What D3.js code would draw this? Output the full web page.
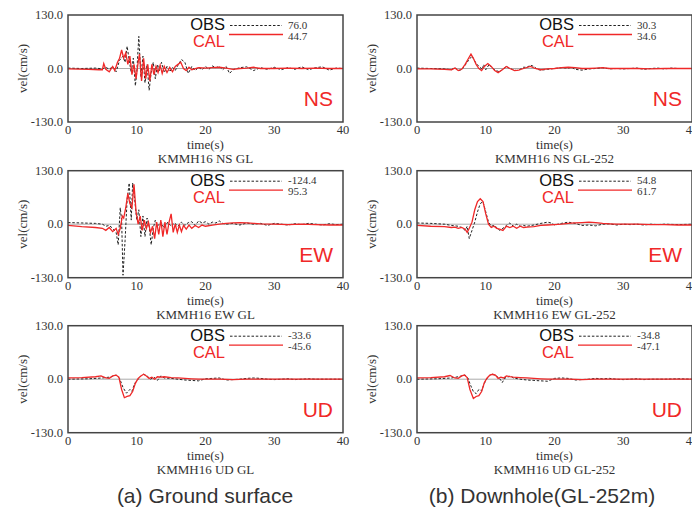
<!DOCTYPE html>
<html>
<head>
<meta charset="utf-8">
<script src="https://cdn.jsdelivr.net/npm/d3@7"></script>
<style>
  body { margin: 0; background: #fff; }
  svg { display: block; }
  .tick-label { font-family: "Liberation Serif", "DejaVu Serif", serif; font-size: 12.5px; fill: #333; }
  .axis-title { font-family: "Liberation Serif", serif; font-size: 13px; fill: #333; }
  .legend-name { font-family: "Liberation Sans", Arial, sans-serif; font-size: 16.5px; }
  .legend-val { font-family: "Liberation Serif", serif; font-size: 11px; fill: #333; }
  .comp { font-family: "Liberation Sans", Arial, sans-serif; font-size: 21px; fill: #f02828; }
  .caption { font-family: "Liberation Sans", Arial, sans-serif; font-size: 21px; fill: #333; }
</style>
</head>
<body>
<div class="chart"></div>
<script>
// time (s), velocity (cm/s) pairs
const nsGlObs = [[0,1],[2,0],[4,1],[5,-1],[5.5,3],[6,-2],[6.5,5],[7,-8],[7.5,20],[8,30],[8.3,15],[8.6,54],[8.9,20],[9.2,-10],[9.5,25],[9.8,-42],[10,-10],[10.3,78],[10.6,-20],[10.9,30],[11.2,-35],[11.5,10],[11.8,-53],[12.1,-10],[12.4,15],[12.7,-25],[13,10],[13.3,-5],[13.6,15],[14,-10],[14.4,5],[14.8,-8],[15.2,3],[15.6,-5],[16,8],[16.5,22],[17,15],[17.5,-12],[18,5],[18.5,-5],[19,3],[19.5,-3],[20,5],[20.5,-2],[21,6],[21.5,2],[22,5],[22.5,-3],[23,5],[23.5,-12],[24,-3],[25,2],[26,4],[27,-5],[28,2],[29,-2],[30,3],[31,-3],[32,2],[33,-2],[34,4],[35,-3],[36,2],[37,4],[38,-4],[39,1],[40,0]];
const nsGlCal = [[0,-1],[3,-2],[4.5,-3],[5,-3],[5.2,12],[5.5,-2],[6,-8],[6.5,5],[6.8,-5],[7.2,15],[7.5,25],[7.8,45],[8.1,25],[8.4,38],[8.7,10],[9,30],[9.3,-15],[9.6,10],[9.9,-25],[10.2,15],[10.4,35],[10.7,-30],[11,25],[11.3,-25],[11.6,10],[11.9,-30],[12.2,10],[12.5,-15],[12.8,5],[13.1,-10],[13.4,8],[13.7,-12],[14,5],[14.4,-10],[14.8,3],[15.2,-8],[15.6,5],[16,10],[16.4,15],[16.8,0],[17.2,-5],[17.6,3],[18,-3],[19,2],[20,1],[21,2],[22,3],[23,1],[24,-2],[25,0],[26,1],[27,3],[28,0],[30,0],[32,1],[34,0],[36,1],[38,0],[40,0]];

const ewGlObs = [[0,4],[2,3],[4,2],[5,0],[5.5,-5],[6,-3],[6.5,-10],[7,-20],[7.3,-50],[7.6,40],[7.8,10],[8,-124],[8.3,-40],[8.6,60],[8.9,100],[9.2,10],[9.4,100],[9.7,60],[10,10],[10.3,35],[10.6,-30],[10.9,20],[11.2,-30],[11.5,15],[11.8,-5],[12.1,-50],[12.4,-10],[12.7,10],[13,-5],[13.5,5],[14,-10],[14.5,5],[15,-5],[15.5,3],[16,-5],[16.5,5],[17,-3],[17.5,4],[18,6],[18.5,-3],[19,8],[19.5,3],[20,6],[20.5,0],[21,5],[21.5,3],[22,8],[22.5,2],[23,0],[24,2],[25,-2],[26,3],[27,0],[28,2],[29,-3],[30,2],[31,0],[32,-2],[33,1],[34,-1],[35,2],[36,0],[37,-2],[38,1],[39,-1],[40,0]];
const ewGlCal = [[0,-3],[2,-6],[4,-8],[5,-10],[5.5,-15],[6,-8],[6.5,-18],[7,-10],[7.3,-25],[7.6,-10],[7.9,20],[8.1,15],[8.4,40],[8.7,75],[9,50],[9.3,40],[9.6,97],[9.9,30],[10.2,0],[10.5,20],[10.8,-15],[11.1,10],[11.4,-10],[11.7,5],[12,-20],[12.3,-5],[12.6,-35],[12.9,5],[13.2,-25],[13.5,10],[13.8,-30],[14.1,5],[14.4,-25],[14.7,5],[15,25],[15.3,-20],[15.6,0],[15.9,-20],[16.2,-2],[16.5,-18],[16.8,-3],[17.2,-12],[17.6,-2],[18,-10],[18.5,-3],[19,-8],[19.5,-2],[20,-5],[21,-2],[22,0],[23,2],[24,3],[25,4],[26,3],[27,2],[28,1],[30,0],[32,-1],[34,0],[36,-1],[38,-2],[40,-2]];

const udGlObs = [[0,0],[3,1],[5,3],[6,5],[6.5,7],[7,10],[7.5,2],[8,-20],[8.5,-34],[9,-25],[9.3,-30],[9.7,-10],[10.2,0],[10.6,8],[11,12],[11.5,8],[12,0],[12.5,5],[13,-3],[13.5,8],[14,3],[15,2],[16,0],[17,-2],[18,-3],[19,-4],[20,1],[21,2],[22,3],[23,-2],[24,-1],[25,0],[26,2],[27,3],[28,2],[29,0],[30,-1],[31,0],[32,1],[33,-1],[34,0],[35,1],[36,0],[38,0],[40,0]];
const udGlCal = [[0,3],[2,4],[4,6],[4.8,8],[5.5,3],[6,2],[6.5,8],[7,10],[7.4,5],[7.8,-25],[8.2,-45],[8.6,-42],[9,-40],[9.4,-30],[9.8,-10],[10.2,2],[10.6,8],[11,12],[11.4,8],[11.8,2],[12.2,5],[12.6,0],[13,6],[13.5,5],[14,6],[15,4],[16,3],[17,2],[18,1],[19,0],[20,0],[22,0],[24,-1],[26,0],[28,0],[30,0],[32,0],[34,0],[36,0],[38,0],[40,0]];

const nsDhObs = [[0,1],[2,0],[4,-1],[5,-3],[5.5,2],[6,-5],[6.5,-3],[7,8],[7.5,20],[8,30],[8.5,15],[9,5],[9.5,-2],[9.7,10],[10,-3],[10.5,10],[11,0],[11.5,-5],[12,-8],[12.5,-2],[13,5],[13.5,0],[14,-3],[14.5,-5],[15,-2],[15.5,3],[16,3],[16.5,8],[17,5],[17.5,-2],[18,-4],[19,-2],[20,0],[21,2],[22,1],[22.5,3],[23,-2],[24,-4],[25,-1],[26,0],[27,2],[28,-1],[29,0],[30,-1],[31,0],[32,1],[33,-2],[34,0],[35,1],[36,-1],[37,1],[38,0],[40,0]];
const nsDhCal = [[0,-1],[2,-1],[4,-2],[5,-3],[5.5,1],[6,-5],[6.5,-2],[7,10],[7.5,25],[7.85,35],[8.2,25],[8.6,10],[9,0],[9.4,-5],[9.8,5],[10.3,12],[10.8,5],[11.3,-5],[11.8,-10],[12.4,-3],[13,5],[13.5,0],[14.2,-5],[14.8,-4],[15.5,0],[16.5,5],[17.2,0],[18,-3],[19,-1],[20,0],[21,2],[22,3],[23,2],[24,0],[25,0],[26,1],[27,2],[28,0],[30,0],[32,0],[34,-1],[36,0],[38,0],[40,0]];

const ewDhObs = [[0,3],[2,2],[4,0],[5,-3],[6,-5],[6.5,-8],[7,-15],[7.3,-5],[7.6,-35],[8,-15],[8.4,5],[8.8,30],[9.2,50],[9.6,55],[10,30],[10.4,5],[10.8,-5],[11.2,-3],[11.6,-8],[12,-15],[12.5,-10],[13,-3],[13.5,3],[14,-5],[14.5,0],[15,-5],[15.5,-3],[16,-5],[17,-2],[18,2],[19,5],[19.5,3],[20,-2],[21,2],[22,5],[23,2],[24,-3],[25,-2],[26,-4],[27,0],[28,1],[29,-2],[30,0],[31,-1],[32,0],[33,-2],[34,0],[35,-1],[36,0],[38,-1],[40,0]];
const ewDhCal = [[0,-3],[2,-5],[4,-6],[5,-8],[5.5,-7],[6,-10],[6.5,-8],[7,-12],[7.3,-20],[7.6,-10],[8,5],[8.4,35],[8.8,55],[9.2,62],[9.6,55],[10,25],[10.4,0],[10.8,-8],[11.2,-5],[11.6,-10],[12,-12],[12.5,-15],[13,-5],[13.5,-8],[14,-5],[14.5,-10],[15,-5],[15.5,-8],[16,-7],[17,-6],[18,-3],[19,-2],[20,-1],[21,0],[22,2],[23,3],[24,4],[25,5],[26,4],[27,2],[28,1],[29,0],[30,0],[32,0],[34,-1],[36,-1],[38,-2],[40,-2]];

const udDhObs = [[0,0],[3,1],[5,3],[6,6],[6.5,8],[7,10],[7.4,3],[7.8,-15],[8.2,-30],[8.6,-35],[9,-25],[9.4,-28],[9.8,-10],[10.2,2],[10.6,10],[11,12],[11.5,8],[12,2],[12.4,-8],[12.8,3],[13.2,5],[13.6,8],[14,3],[15,0],[16,-2],[17,-3],[18,-4],[19,-5],[20,2],[21,3],[22,2],[23,-2],[24,-1],[25,0],[26,2],[27,1],[28,2],[29,0],[30,-1],[31,0],[32,1],[33,-1],[34,0],[36,0],[38,1],[40,0]];
const udDhCal = [[0,3],[2,4],[4,6],[4.8,9],[5.5,3],[6,2],[6.5,8],[6.9,10],[7.3,4],[7.7,-25],[8.2,-47],[8.6,-42],[9,-40],[9.4,-30],[9.8,-8],[10.2,3],[10.6,10],[11,12],[11.4,10],[11.8,2],[12.2,5],[12.6,3],[13,8],[13.5,6],[14,5],[15,4],[16,3],[17,2],[18,1],[19,0],[20,0],[22,0],[24,-1],[26,0],[28,0],[30,0],[32,0],[34,0],[36,0],[38,0],[40,0]];

const components = ["NS", "EW", "UD"];
const sites = ["GL", "GL-252"];
const obsPeaks = [["76.0", "30.3"], ["-124.4", "54.8"], ["-33.6", "-34.8"]];
const calPeaks = [["44.7", "34.6"], ["95.3", "61.7"], ["-45.6", "-47.1"]];
const xTicks = [0, 10, 20, 30, 40];
const yTicks = [130, 0, -130];
const captions = ["(a) Ground surface", "(b) Downhole(GL-252m)"];

const obsSeries = [[nsGlObs, nsDhObs], [ewGlObs, ewDhObs], [udGlObs, udDhObs]];
const calSeries = [[nsGlCal, nsDhCal], [ewGlCal, ewDhCal], [udGlCal, udDhCal]];

const W = 692, H = 513;
const pw = 275, ph = 107;
const lefts = [68, 417];
const tops = [15, 170.7, 325.7];
const red = "#f02828";

const svg = d3.select(".chart").append("svg")
    .attr("width", W)
    .attr("height", H);

const x = d3.scaleLinear().domain([0, 40]).range([0, pw]);
const y = d3.scaleLinear().domain([-130, 130]).range([ph, 0]);
const line = d3.line().x(d => x(d[0])).y(d => y(d[1]));

components.forEach((comp, r) => {
  sites.forEach((site, c) => {
    const g = svg.append("g")
        .attr("transform", `translate(${lefts[c]}, ${tops[r]})`);
    const cid = `clip-${r}-${c}`;
    g.append("clipPath").attr("id", cid)
      .append("rect").attr("width", pw).attr("height", ph);

    // zero line
    g.append("line")
        .attr("x1", 0).attr("x2", pw)
        .attr("y1", y(0)).attr("y2", y(0))
        .attr("stroke", "#aaa").attr("stroke-width", 1);

    const plot = g.append("g").attr("clip-path", `url(#${cid})`);
    plot.append("path")
        .datum(obsSeries[r][c])
        .attr("d", line)
        .attr("fill", "none")
        .attr("stroke", "#222")
        .attr("stroke-width", 1)
        .attr("stroke-dasharray", "2.5,1.8");
    plot.append("path")
        .datum(calSeries[r][c])
        .attr("d", line)
        .attr("fill", "none")
        .attr("stroke", red)
        .attr("stroke-width", 1.3);

    g.append("rect")
        .attr("width", pw).attr("height", ph)
        .attr("fill", "none")
        .attr("stroke", "#444").attr("stroke-width", 1.5);

    // ticks
    g.selectAll(".ytl").data(yTicks).enter().append("text")
        .attr("class", "tick-label")
        .attr("x", -5).attr("y", d => y(d) + 4)
        .attr("text-anchor", "end")
        .text(d => d.toFixed(1));
    g.selectAll(".xtl").data(xTicks).enter().append("text")
        .attr("class", "tick-label")
        .attr("x", d => x(d)).attr("y", ph + 12)
        .attr("text-anchor", "middle")
        .text(d => d);

    g.append("text").attr("class", "axis-title")
        .attr("x", pw / 2).attr("y", ph + 27)
        .attr("text-anchor", "middle")
        .text("time(s)");
    g.append("text").attr("class", "axis-title")
        .attr("x", pw / 2).attr("y", ph + 41)
        .attr("text-anchor", "middle")
        .text(`KMMH16 ${comp} ${site}`);
    g.append("text").attr("class", "axis-title")
        .attr("transform", `translate(-41, ${ph / 2}) rotate(-90)`)
        .attr("text-anchor", "middle")
        .text("vel(cm/s)");

    // legend
    g.append("text").attr("class", "legend-name")
        .attr("x", 157).attr("y", 15)
        .attr("text-anchor", "end").attr("fill", "#111")
        .text("OBS");
    g.append("line")
        .attr("x1", 162).attr("x2", 214).attr("y1", 10.5).attr("y2", 10.5)
        .attr("stroke", "#222").attr("stroke-width", 1)
        .attr("stroke-dasharray", "2.5,1.8");
    g.append("text").attr("class", "legend-val")
        .attr("x", 220).attr("y", 13.5)
        .text(obsPeaks[r][c]);

    g.append("text").attr("class", "legend-name")
        .attr("x", 157).attr("y", 32)
        .attr("text-anchor", "end").attr("fill", red)
        .text("CAL");
    g.append("line")
        .attr("x1", 161).attr("x2", 215).attr("y1", 19.5).attr("y2", 19.5)
        .attr("stroke", red).attr("stroke-width", 1.3);
    g.append("text").attr("class", "legend-val")
        .attr("x", 220).attr("y", 24.5)
        .text(calPeaks[r][c]);

    g.append("text").attr("class", "comp")
        .attr("x", 265).attr("y", 91)
        .attr("text-anchor", "end")
        .text(comp);
  });
});

svg.selectAll(".caption").data(captions).enter().append("text")
    .attr("class", "caption")
    .attr("x", (d, i) => lefts[i] + (i === 0 ? 137 : 125))
    .attr("y", 503)
    .attr("text-anchor", "middle")
    .text(d => d);
</script>
</body>
</html>
